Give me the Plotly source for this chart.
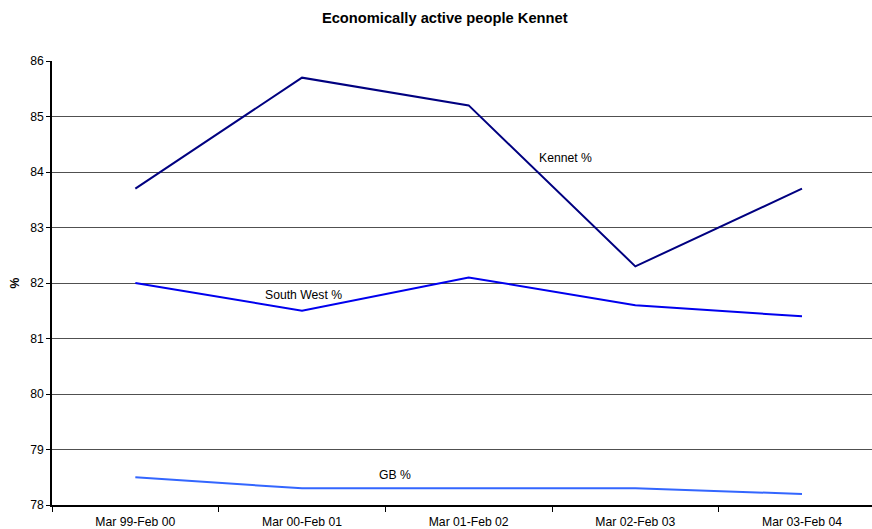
import plotly.graph_objects as go

categories = ["Mar 99-Feb 00", "Mar 00-Feb 01", "Mar 01-Feb 02", "Mar 02-Feb 03", "Mar 03-Feb 04"]
kennet = [83.7, 85.7, 85.2, 82.3, 83.7]
south_west = [82.0, 81.5, 82.1, 81.6, 81.4]
gb = [78.5, 78.3, 78.3, 78.3, 78.2]

FONT = "Liberation Sans, Arial, sans-serif"

fig = go.Figure()
fig.add_trace(go.Scatter(x=categories, y=kennet, mode="lines", name="Kennet %",
                         line=dict(color="#000080", width=2)))
fig.add_trace(go.Scatter(x=categories, y=south_west, mode="lines", name="South West %",
                         line=dict(color="#0000EE", width=2)))
fig.add_trace(go.Scatter(x=categories, y=gb, mode="lines", name="GB %",
                         line=dict(color="#3366FF", width=2)))

annos = [("Kennet %", 2.58, 84.25), ("South West %", 1.01, 81.78), ("GB %", 1.56, 78.54)]
for text, ax, ay in annos:
    fig.add_annotation(x=ax, y=ay, xref="x", yref="y", text=text, showarrow=False,
                       font=dict(family=FONT, size=12.2, color="#000000"))

fig.update_layout(
    width=872, height=529,
    margin=dict(l=52, r=0, t=61, b=24),
    paper_bgcolor="white", plot_bgcolor="white",
    showlegend=False,
    title=dict(text="<b>Economically active people Kennet</b>", x=0.51, xanchor="center",
               y=0.967, yanchor="middle", font=dict(family=FONT, size=14.7, color="#000000")),
    font=dict(family=FONT, size=12.2, color="#000000"),
)
fig.update_xaxes(type="category", range=[-0.5, 4.42], tickson="boundaries",
                 ticks="outside", ticklen=5, tickcolor="#000000",
                 showline=True, linecolor="#000000", linewidth=1.5,
                 showgrid=False, zeroline=False, ticklabelstandoff=5,
                 tickfont=dict(family=FONT, size=12.2, color="#000000"))
fig.update_yaxes(range=[78, 86], dtick=1, ticks="outside", ticklen=4, tickcolor="#000000",
                 showline=True, linecolor="#000000", linewidth=1.5,
                 showgrid=True, gridcolor="#505050", gridwidth=1, zeroline=False,
                 title=dict(text="<b>%</b>", standoff=8, font=dict(family=FONT, size=12.2)),
                 tickfont=dict(family=FONT, size=12.2, color="#000000"))

fig.write_html("out.html")
